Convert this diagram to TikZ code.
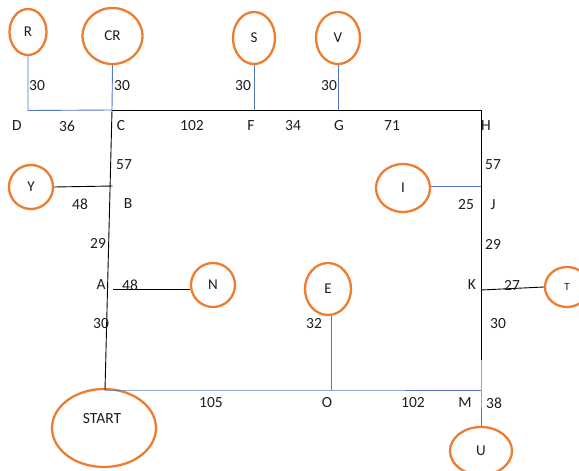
\documentclass[tikz,border=0pt]{standalone}
\usepackage{fontspec}
\setmainfont{Carlito}
\usetikzlibrary{shapes.geometric}
\definecolor{ringorange}{RGB}{237,125,49}
\definecolor{linkblue}{RGB}{84,120,196}
\definecolor{txt}{RGB}{30,30,30}
\begin{document}
\begin{tikzpicture}[x=1pt,y=-1pt,
  place/.style={ellipse,draw=ringorange,line width=2.3pt,inner sep=0pt,
    font=\fontsize{15}{15}\selectfont,text=txt},
  lbl/.style={font=\fontsize{15.5}{15.5}\selectfont,text=txt,inner sep=0pt},
  road/.style={draw=black,line width=0.9pt},
  spur/.style={draw=linkblue,line width=0.9pt}]
\useasboundingbox (0,0) rectangle (579,471);
\fill[white] (0,0) rectangle (579,471);

% places
\node[place,minimum width=37pt,minimum height=46pt] (R) at (28,32) {R};
\node[place,minimum width=60pt,minimum height=56pt] (CR) at (112.5,36) {CR};
\node[place,minimum width=42pt,minimum height=52pt] (S) at (254,38) {S};
\node[place,minimum width=44pt,minimum height=52pt] (V) at (338,38) {V};
\node[place,minimum width=44pt,minimum height=44pt] (Y) at (31,187) {Y};
\node[place,minimum width=54pt,minimum height=48pt] (I) at (403,188) {I};
\node[place,minimum width=44pt,minimum height=44pt] (N) at (213,285) {N};
\node[place,minimum width=46pt,minimum height=52pt] (E) at (328,289) {E};
\node[place,minimum width=44pt,minimum height=40pt,font=\fontsize{11}{11}\selectfont] (T) at (567,287) {T};
\node[place,minimum width=104pt,minimum height=78pt] (START) at (104,428) {};
\node[lbl] at (102,419) {START};
\node[place,minimum width=62pt,minimum height=48pt] (U) at (481,451) {U};

% junctions
\coordinate (D) at (28,110.5);
\coordinate (C) at (112,110);
\coordinate (F) at (254,110);
\coordinate (G) at (338,110);
\coordinate (H) at (481,110);
\coordinate (Bx) at (112.5,186);
\coordinate (Ax) at (113,289);
\coordinate (J) at (481,186);
\coordinate (K) at (481,290);
\coordinate (Kb) at (481,360);
\coordinate (M) at (481,390);
\coordinate (O) at (331,390);
\coordinate (St) at (105,390);

% main roads
\draw[road] (C) -- (H) -- (Kb);
\draw[road] (C) -- (St);
\draw[spur] (Kb) -- (M) -- (U.north);
\draw[spur] (St) -- (O) -- (M);

% branches
\draw[spur] (R.south) -- (D) -- (C);
\draw[spur] (CR.south) -- (C);
\draw[spur] (S.south) -- (F);
\draw[spur] (V.south) -- (G);
\draw[road] (Y.east) -- (Bx);
\draw[road] (Ax) -- (Ax -| N.west);
\draw[spur] (J -| I.east) -- (J);
\draw[road] (K) -- (T.west);
\draw[spur] (O |- E.south) -- (O);

% distances and junction names
\node[lbl] at (37,86) {30};
\node[lbl] at (122,86) {30};
\node[lbl] at (243,86) {30};
\node[lbl] at (329,86) {30};
\node[lbl] at (17,126) {D};
\node[lbl] at (67,126) {36};
\node[lbl] at (121,126) {C};
\node[lbl] at (192,126) {102};
\node[lbl] at (251,126) {F};
\node[lbl] at (293,126) {34};
\node[lbl] at (339,126) {G};
\node[lbl] at (392,126) {71};
\node[lbl] at (486,126) {H};
\node[lbl] at (124,165) {57};
\node[lbl] at (80,204) {48};
\node[lbl] at (128,204) {B};
\node[lbl] at (98,243) {29};
\node[lbl] at (101,285) {A};
\node[lbl] at (130,285) {48};
\node[lbl] at (101,324) {30};
\node[lbl] at (493,165) {57};
\node[lbl] at (466,205) {25};
\node[lbl] at (493,205) {J};
\node[lbl] at (493,244) {29};
\node[lbl] at (472,285) {K};
\node[lbl] at (512,285) {27};
\node[lbl] at (498,324) {30};
\node[lbl] at (314,324) {32};
\node[lbl] at (211,403) {105};
\node[lbl] at (327,403) {O};
\node[lbl] at (413,403) {102};
\node[lbl] at (465,403) {M};
\node[lbl] at (494,403) {38};
\end{tikzpicture}
\end{document}
